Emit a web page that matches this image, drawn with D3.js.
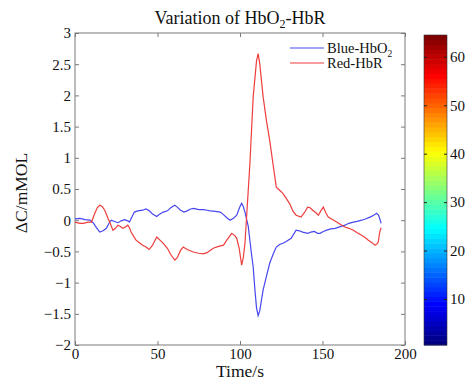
<!DOCTYPE html>
<html><head><meta charset="utf-8">
<script src="https://cdn.jsdelivr.net/npm/d3@7"></script>
<style>html,body{margin:0;padding:0;background:#fff;}svg{display:block;font-family:"Liberation Serif","Times New Roman",serif;}</style>
</head><body>
<svg id="chart" width="470" height="381"></svg>
<script>
// ---- data ----
const blueTime = [0,3,6,9,11,13,15,17,19,21,22,24,26,28,30,32,33,35,36,38,41,43,45,47,49.5,51,53.5,56,58,60.5,62,64,66,68,70,72,75,78,80,82,85,88,90,92,94,96,98,100,101,102,103,105,107,108,109,110,111,112,113,114,116,118,120,122,124,126,128,131,134,136,138,141,143,145,147,148.5,150.5,152.5,155,157.6,160,163.6,166,168.7,171,173.7,176,178.8,181,182.8,184,185,185.5];
const blueHbO2 = [0.02,0.03,0.01,0.0,-0.04,-0.12,-0.19,-0.17,-0.13,-0.03,0.0,-0.02,-0.04,-0.01,0.01,-0.01,-0.03,0.08,0.13,0.15,0.16,0.18,0.15,0.10,0.06,0.09,0.13,0.15,0.20,0.24,0.21,0.16,0.13,0.15,0.18,0.19,0.17,0.17,0.16,0.15,0.14,0.13,0.09,0.04,0.0,0.03,0.08,0.22,0.27,0.22,0.13,-0.1,-0.55,-0.75,-1.1,-1.4,-1.53,-1.45,-1.28,-1.12,-0.9,-0.69,-0.55,-0.43,-0.39,-0.37,-0.34,-0.29,-0.16,-0.17,-0.19,-0.21,-0.19,-0.18,-0.21,-0.21,-0.18,-0.16,-0.14,-0.13,-0.11,-0.08,-0.05,-0.03,-0.02,0.0,0.02,0.05,0.08,0.11,0.08,0.0,-0.05];
const redTime = [0,3,5,8,10,12,13.5,15,16.5,18,20,21,23,24.5,26,27.5,29,30.5,32,33,34,36,37,39,41,43,45,47,49.5,51.5,53.5,56,58,60.5,62,64,65.6,68,71.7,75,77.8,80,83.8,87,90,92,95,97,98,99.5,101,102,103,104,106,108,110,111,112,114,116,118,120,122,124,126,128,130,132,134,137,139,141,142.5,144,146,147.5,149,150.5,152,153.5,156,158.6,161,163.6,166,168.7,171,173.7,176,177.8,180,181.8,183,183.8,184.5,185,185.5];
const redHbR = [-0.03,-0.05,-0.05,-0.03,-0.03,0.11,0.2,0.24,0.22,0.16,0.03,-0.03,-0.16,-0.13,-0.08,-0.1,-0.13,-0.11,-0.08,-0.12,-0.19,-0.28,-0.32,-0.36,-0.4,-0.43,-0.47,-0.4,-0.27,-0.32,-0.37,-0.45,-0.55,-0.64,-0.6,-0.48,-0.43,-0.47,-0.51,-0.53,-0.54,-0.52,-0.45,-0.42,-0.4,-0.32,-0.21,-0.25,-0.29,-0.45,-0.72,-0.6,-0.37,0.05,0.91,1.98,2.55,2.67,2.5,1.98,1.6,1.28,0.9,0.53,0.48,0.43,0.35,0.27,0.15,0.08,0.05,0.12,0.21,0.2,0.16,0.12,0.08,0.15,0.21,0.12,0.05,0.01,-0.03,-0.07,-0.11,-0.13,-0.16,-0.2,-0.24,-0.28,-0.32,-0.36,-0.4,-0.38,-0.35,-0.22,-0.16,-0.12];
const xTicks = [0,50,100,150,200];
const yTicks = [-2,-1.5,-1,-0.5,0,0.5,1,1.5,2,2.5,3];
const cbTicks = [10,20,30,40,50,60];
const seriesNames = ["Blue-HbO", "Red-HbR"];

// ---- layout ----
const svg = d3.select("#chart");
const L = 75, R = 405, T = 33, B = 345;
const x = d3.scaleLinear().domain([0,200]).range([L,R]);
const y = d3.scaleLinear().domain([-2,3]).range([B,T]);
const axisColor = "#7a7a7a";
const fs = 15;

// box
svg.append("rect").attr("x",L).attr("y",T).attr("width",R-L).attr("height",B-T)
  .attr("fill","none").attr("stroke",axisColor).attr("stroke-width",1);

// axes with inward ticks
const fmt = d => d < 0 ? "\u2212" + Math.abs(d) : String(d);
const ax = svg.append("g").attr("transform",`translate(0,${B})`)
  .call(d3.axisBottom(x).tickValues(xTicks).tickSize(-4).tickPadding(5).tickFormat(fmt));
const axT = svg.append("g").attr("transform",`translate(0,${T})`)
  .call(d3.axisTop(x).tickValues(xTicks).tickSize(-4).tickFormat(""));
const ay = svg.append("g").attr("transform",`translate(${L},0)`)
  .call(d3.axisLeft(y).tickValues(yTicks).tickSize(-4).tickPadding(4).tickFormat(fmt));
const ayR = svg.append("g").attr("transform",`translate(${R},0)`)
  .call(d3.axisRight(y).tickValues(yTicks).tickSize(-4).tickFormat(""));
[ax,axT,ay,ayR].forEach(g=>{
  g.select(".domain").remove();
  g.selectAll(".tick line").attr("stroke",axisColor);
  g.selectAll("text").attr("fill","#111").style("font-size",fs+"px").style("font-family","Liberation Serif");
});
ax.selectAll("text").attr("dy","0.6em");

// lines
const line = d3.line().x(d=>x(d[0])).y(d=>y(d[1]));
const blueData = blueTime.map((t,i)=>[t,blueHbO2[i]]);
const redData = redTime.map((t,i)=>[t,redHbR[i]]);
svg.append("path").datum(blueData).attr("d",line).attr("fill","none").attr("stroke","#4747f0").attr("stroke-width",1.2);
svg.append("path").datum(redData).attr("d",line).attr("fill","none").attr("stroke","#ee3d3d").attr("stroke-width",1.2);

// title
const title = svg.append("text").attr("x",(L+R)/2).attr("y",24).attr("text-anchor","middle")
  .style("font-size","18px").attr("fill","#111");
title.append("tspan").text("Variation of HbO");
title.append("tspan").text("2").style("font-size","12px").attr("dy",4);
title.append("tspan").text("-HbR").attr("dy",-4);

// axis labels
svg.append("text").attr("x",(L+R)/2).attr("y",377).attr("text-anchor","middle")
  .style("font-size","17.5px").attr("fill","#111").text("Time/s");
svg.append("text").attr("transform",`translate(27,${(T+B)/2+4}) rotate(-90)`).attr("text-anchor","middle")
  .style("font-size","17.5px").attr("fill","#111").text("\u0394C/mMOL");

// legend
const lg = svg.append("g");
const lgColors = ["#4747f0","#ee3d3d"];
seriesNames.forEach((n,i)=>{
  const yy = 48 + i*15;
  lg.append("line").attr("x1",290).attr("x2",324).attr("y1",yy).attr("y2",yy).attr("stroke",lgColors[i]).attr("stroke-width",1.1);
  const t = lg.append("text").attr("x",327).attr("y",yy+5).style("font-size","14.5px").attr("fill","#111");
  t.append("tspan").text(n);
  if(i===0) t.append("tspan").text("2").style("font-size","9.5px").attr("dy",4);
});

// colorbar (jet, 64 colors)
const cbL = 424, cbR = 447;
const cy = d3.scaleLinear().domain([0.5,64.5]).range([345,35]);
function jet(v){ // v in [0,1]
  const r = Math.max(0,Math.min(1,1.5-Math.abs(4*v-3)));
  const g = Math.max(0,Math.min(1,1.5-Math.abs(4*v-2)));
  const b = Math.max(0,Math.min(1,1.5-Math.abs(4*v-1)));
  return d3.rgb(r*255,g*255,b*255).toString();
}
const cbIdx = d3.range(1,65);
svg.append("g").selectAll("rect").data(cbIdx).join("rect")
  .attr("x",cbL).attr("width",cbR-cbL)
  .attr("y",d=>cy(d+0.5)).attr("height",d=>cy(d-0.5)-cy(d+0.5)+0.5)
  .attr("fill",d=>jet((d-1)/63));
svg.append("rect").attr("x",cbL).attr("y",cy(64.5)).attr("width",cbR-cbL).attr("height",cy(0.5)-cy(64.5))
  .attr("fill","none").attr("stroke","#333").attr("stroke-width",0.6);
const cbA = svg.append("g").attr("transform",`translate(${cbR},0)`)
  .call(d3.axisRight(cy).tickValues(cbTicks).tickSize(-3).tickPadding(3));
cbA.select(".domain").remove();
cbA.selectAll(".tick line").attr("stroke","#222");
cbA.selectAll("text").attr("fill","#111").style("font-size",fs+"px").style("font-family","Liberation Serif");
const cbAL = svg.append("g").attr("transform",`translate(${cbL},0)`)
  .call(d3.axisLeft(cy).tickValues(cbTicks).tickSize(-3).tickFormat(""));
cbAL.select(".domain").remove();
cbAL.selectAll(".tick line").attr("stroke","#222");
</script>
</body></html>
